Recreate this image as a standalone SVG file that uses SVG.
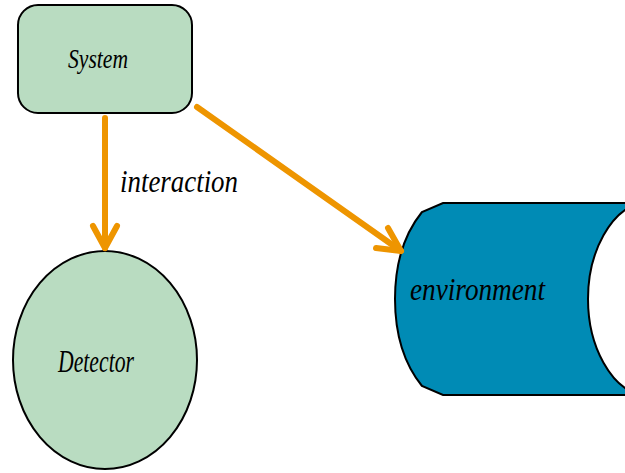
<svg xmlns="http://www.w3.org/2000/svg" width="625" height="473" viewBox="0 0 625 473">
<style>
.lbl{font-family:"Liberation Serif","Times New Roman",serif;font-style:italic;fill:#000}
.conn{stroke:#ee9500;stroke-width:6;fill:none;stroke-linecap:round;stroke-linejoin:round}
.node{stroke:#000;stroke-width:2}
</style>
<rect width="625" height="473" fill="#fff"/>
<g id="environment">
<path class="node" d="M443,203 L660,203 L660,395 L443,395 L422,386 C405,365 395,335 395,299 C395,263 405,233 422,212 Z" fill="#008bb5"/>
<path class="node" d="M640,203 C612,210 588,250 588,299 C588,348 612,388 640,395" fill="#fff"/>
<text class="lbl" x="410" y="300" font-size="32" textLength="135" lengthAdjust="spacingAndGlyphs">environment</text>
</g>
<g id="system">
<rect class="node" x="18" y="5" width="174" height="108" rx="20" fill="#b9dcc1"/>
<text class="lbl" x="68" y="68" font-size="28" textLength="60" lengthAdjust="spacingAndGlyphs">System</text>
</g>
<g id="detector">
<ellipse class="node" cx="105" cy="360" rx="92" ry="109" fill="#b9dcc1" stroke-width="1.5"/>
<text class="lbl" x="58" y="372" font-size="31" textLength="76" lengthAdjust="spacingAndGlyphs">Detector</text>
</g>
<g id="connectors">
<path class="conn" d="M105,118 L105,248"/>
<path class="conn" d="M93,226 L105,248 L117,226"/>
<path class="conn" d="M197,107 L401,251"/>
<path class="conn" d="M388,228 L401,251 L376,248"/>
<text class="lbl" x="120" y="192" font-size="32" textLength="118" lengthAdjust="spacingAndGlyphs">interaction</text>
</g>
</svg>
